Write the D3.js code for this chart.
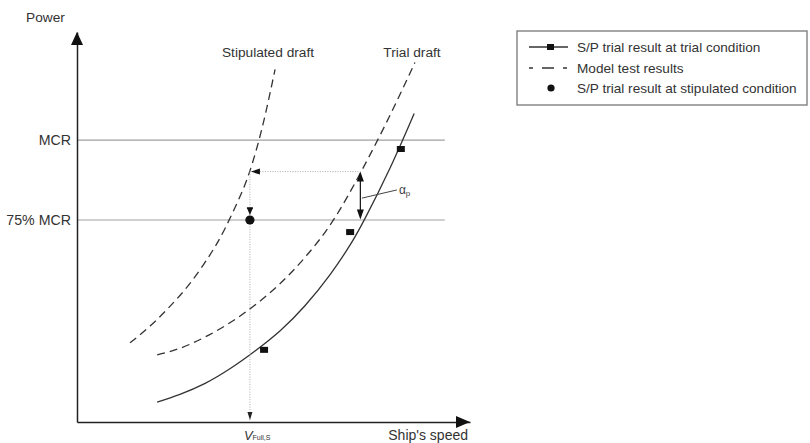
<!DOCTYPE html>
<html>
<head>
<meta charset="utf-8">
<script src="https://cdn.jsdelivr.net/npm/d3@7"></script>
<style>
  html, body { margin: 0; padding: 0; background: #fff; }
  svg { display: block; font-family: "Liberation Sans", Arial, sans-serif; }
</style>
</head>
<body>
<svg id="chart" width="810" height="443"></svg>
<script>
// Speed–power curves (schematic units: speed and power both on 0–100)
const stipulatedDraft = [[13.5,20.3],[18.6,24.6],[23.7,29.7],[28.8,35.6],[33.8,42.8],[37.7,49.7],[41.5,57.9],[44.0,64.4],[47.1,75.4],[50.4,90.4]];
const trialDraft      = [[20.4,17.2],[26.2,18.9],[32.6,21.8],[39.0,25.5],[45.3,30.0],[51.7,35.5],[58.0,42.2],[64.4,50.5],[70.7,61.2],[78.4,76.1],[86.0,92.2]];
const trialResultCurve = [[20.4,5.1],[26.2,7.1],[32.6,9.9],[39.0,13.7],[45.3,18.2],[51.7,23.4],[58.0,29.8],[64.4,37.8],[69.5,45.4],[73.3,52.2],[79.6,65.0],[85.8,79.1]];
const trialPoints     = [[82.4,70.0],[69.5,48.7],[47.6,18.5]];
const stipulatedPoint = [44.0,51.8];

// Reference power levels
const powerLevels = [
  { label: "MCR", value: 72.3 },
  { label: "75% MCR", value: 51.8 }
];
const levelEnd = 93.6;

// Correction construction
const vFullS = 44.0;          // speed read at stipulated draft
const correctedPower = 64.2;  // power level carried across
const correctionSpeed = 72.1; // trial speed at 75% MCR
const alphaLeader = [[72.5,57.4],[81.4,59.5]];

const legendItems = [
  "S/P trial result at trial condition",
  "Model test results",
  "S/P trial result at stipulated condition"
];

const svg = d3.select("#chart");
const x = d3.scaleLinear().domain([0, 100]).range([77, 470]);
const y = d3.scaleLinear().domain([0, 100]).range([422, 32]);

const ink = "#222";
const textCol = "#333";
const fs = 13.7;

// Horizontal power levels
powerLevels.forEach(p => {
  svg.append("line")
    .attr("x1", x(0)).attr("x2", x(levelEnd))
    .attr("y1", y(p.value)).attr("y2", y(p.value))
    .attr("stroke", "#a0a0a0").attr("stroke-width", 1.2);
  svg.append("text")
    .attr("x", x(0) - 6).attr("y", y(p.value) + 5)
    .attr("text-anchor", "end")
    .attr("font-size", 14.2).attr("fill", textCol)
    .text(p.label);
});

// Axes without ticks
const xAxis = d3.axisBottom(x).tickValues([]).tickSizeOuter(0);
const yAxis = d3.axisLeft(y).tickValues([]).tickSizeOuter(0);
svg.append("g").attr("transform", `translate(0,${y(0)})`).call(xAxis)
  .select(".domain").attr("stroke", ink).attr("stroke-width", 1.5);
svg.append("g").attr("transform", `translate(${x(0)},0)`).call(yAxis)
  .select(".domain").attr("stroke", ink).attr("stroke-width", 1.5);

// Axis arrowheads
svg.append("path")
  .attr("d", `M${x(0)},${y(100)} L${x(0)-6},${y(100)+13} L${x(0)+6},${y(100)+13} Z`)
  .attr("fill", "#111");
svg.append("path")
  .attr("d", `M${x(100)},${y(0)} L${x(100)-14},${y(0)-6} L${x(100)-14},${y(0)+6} Z`)
  .attr("fill", "#111");

svg.append("text").attr("x", 26).attr("y", 22)
  .attr("font-size", fs).attr("fill", textCol).text("Power");
svg.append("text").attr("x", 468).attr("y", 440)
  .attr("text-anchor", "end")
  .attr("font-size", 14).attr("fill", textCol).text("Ship's speed");

// Curves
const line = d3.line().x(d => x(d[0])).y(d => y(d[1])).curve(d3.curveNatural);

svg.append("path").datum(stipulatedDraft).attr("d", line)
  .attr("fill", "none").attr("stroke", "#333").attr("stroke-width", 1.3)
  .attr("stroke-dasharray", "8,5");
svg.append("path").datum(trialDraft).attr("d", line)
  .attr("fill", "none").attr("stroke", "#333").attr("stroke-width", 1.3)
  .attr("stroke-dasharray", "8,5");
svg.append("path").datum(trialResultCurve).attr("d", line)
  .attr("fill", "none").attr("stroke", "#333").attr("stroke-width", 1.3);

svg.append("text").attr("x", 268).attr("y", 57).attr("text-anchor", "middle")
  .attr("font-size", fs).attr("fill", textCol).text("Stipulated draft");
svg.append("text").attr("x", 412).attr("y", 57).attr("text-anchor", "middle")
  .attr("font-size", fs).attr("fill", textCol).text("Trial draft");

// Dotted construction lines
svg.append("line")
  .attr("x1", x(vFullS)).attr("x2", x(vFullS))
  .attr("y1", y(correctedPower)).attr("y2", y(0) - 2)
  .attr("stroke", "#aaa").attr("stroke-width", 1).attr("stroke-dasharray", "1,1.5");
svg.append("line")
  .attr("x1", x(vFullS)).attr("x2", x(correctionSpeed))
  .attr("y1", y(correctedPower)).attr("y2", y(correctedPower))
  .attr("stroke", "#aaa").attr("stroke-width", 1).attr("stroke-dasharray", "1,1.5");

// Arrowheads on construction lines
const headDown = (cx, tipY, w, h) => `M${cx},${tipY} L${cx-w/2},${tipY-h} L${cx+w/2},${tipY-h} Z`;
const headUp = (cx, tipY, w, h) => `M${cx},${tipY} L${cx-w/2},${tipY+h} L${cx+w/2},${tipY+h} Z`;
const headLeft = (tipX, cy, w, h) => `M${tipX},${cy} L${tipX+h},${cy-w/2} L${tipX+h},${cy+w/2} Z`;

svg.append("path").attr("d", headDown(x(vFullS), y(0) - 2, 5, 8)).attr("fill", "#222");
svg.append("path").attr("d", headLeft(x(vFullS) + 1, y(correctedPower), 6, 9)).attr("fill", "#111");
svg.append("path").attr("d", headDown(x(stipulatedPoint[0]), y(stipulatedPoint[1]) - 5, 6, 7)).attr("fill", "#111");
svg.append("line")
  .attr("x1", x(stipulatedPoint[0]) - 3).attr("x2", x(stipulatedPoint[0]) + 3)
  .attr("y1", y(stipulatedPoint[1]) - 12).attr("y2", y(stipulatedPoint[1]) - 12)
  .attr("stroke", "#111").attr("stroke-width", 1.5);

// Double arrow between model-test and trial curves
svg.append("line")
  .attr("x1", x(correctionSpeed)).attr("x2", x(correctionSpeed))
  .attr("y1", y(correctedPower) + 6).attr("y2", y(powerLevels[1].value) - 6)
  .attr("stroke", "#111").attr("stroke-width", 1.2);
svg.append("path").attr("d", headUp(x(correctionSpeed), y(correctedPower), 7, 10)).attr("fill", "#111");
svg.append("path").attr("d", headDown(x(correctionSpeed), y(powerLevels[1].value) - 0.5, 7, 10)).attr("fill", "#111");

// alpha_p leader and label
svg.append("line")
  .attr("x1", x(alphaLeader[0][0])).attr("y1", y(alphaLeader[0][1]))
  .attr("x2", x(alphaLeader[1][0])).attr("y2", y(alphaLeader[1][1]))
  .attr("stroke", "#444").attr("stroke-width", 1);
const alphaText = svg.append("text")
  .attr("x", x(alphaLeader[1][0]) + 2).attr("y", y(alphaLeader[1][1]) + 4)
  .attr("font-size", 12).attr("fill", "#444");
alphaText.append("tspan").text("α");
alphaText.append("tspan").attr("font-size", 8).attr("dy", 2).text("p");

// Points
svg.selectAll("rect.trial").data(trialPoints).join("rect")
  .attr("class", "trial")
  .attr("x", d => x(d[0]) - 4).attr("y", d => y(d[1]) - 3)
  .attr("width", 8).attr("height", 6).attr("fill", "#111");
svg.append("circle")
  .attr("cx", x(stipulatedPoint[0])).attr("cy", y(stipulatedPoint[1]))
  .attr("r", 4.6).attr("fill", "#111");

// V_Full,S label
const vText = svg.append("text")
  .attr("x", x(vFullS) - 6).attr("y", 440)
  .attr("font-size", 13).attr("fill", textCol);
vText.append("tspan").attr("font-style", "italic").text("V");
vText.append("tspan").attr("font-size", 7).attr("dy", 0).text("Full,S");

// Legend
const lg = svg.append("g");
lg.append("rect").attr("x", 517).attr("y", 31).attr("width", 290).attr("height", 74)
  .attr("fill", "#fff").attr("stroke", "#777").attr("stroke-width", 1.3);
const rowY = [47, 68, 88];
lg.append("line").attr("x1", 529).attr("x2", 568).attr("y1", rowY[0]).attr("y2", rowY[0])
  .attr("stroke", "#333").attr("stroke-width", 1.3);
lg.append("rect").attr("x", 547).attr("y", rowY[0] - 3).attr("width", 7).attr("height", 6).attr("fill", "#111");
lg.append("line").attr("x1", 529).attr("x2", 567).attr("y1", rowY[1]).attr("y2", rowY[1])
  .attr("stroke", "#333").attr("stroke-width", 1.3).attr("stroke-dasharray", "4,9,12,9,4");
lg.append("circle").attr("cx", 551).attr("cy", rowY[2]).attr("r", 3.6).attr("fill", "#111");
lg.selectAll("text.lab").data(legendItems).join("text")
  .attr("class", "lab")
  .attr("x", 577).attr("y", (d, i) => rowY[i] + 5)
  .attr("font-size", 13.6).attr("fill", textCol)
  .text(d => d);
</script>
</body>
</html>
